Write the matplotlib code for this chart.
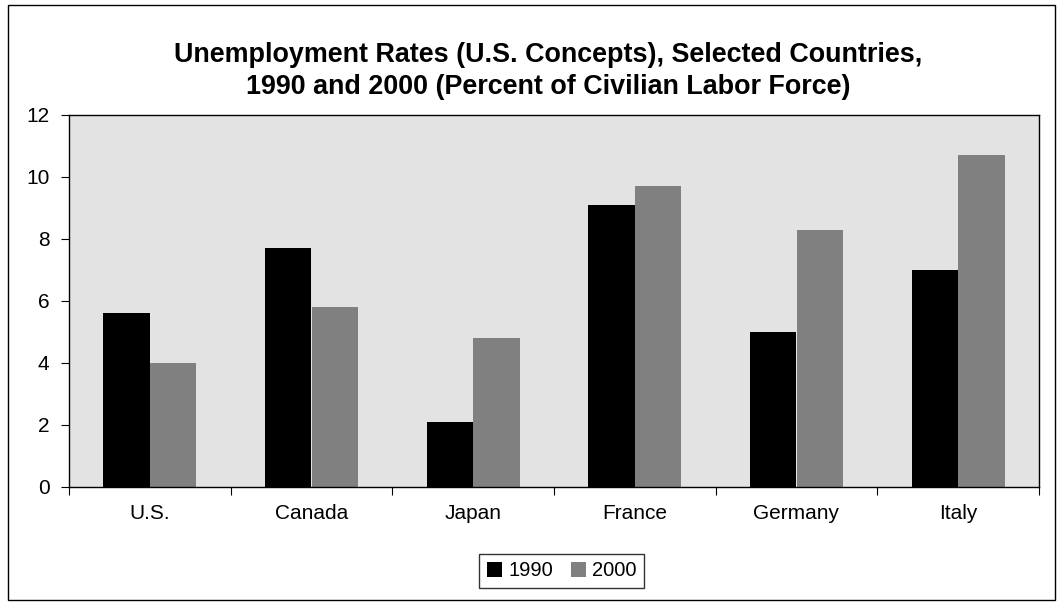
import matplotlib
matplotlib.use("Agg")
import matplotlib.pyplot as plt
import numpy as np
from matplotlib.patches import Rectangle

plt.rcParams['font.family'] = ['Liberation Sans', 'DejaVu Sans']

countries = ["U.S.", "Canada", "Japan", "France", "Germany", "Italy"]
series_names = ["1990", "2000"]
rates_1990 = [5.6, 7.7, 2.1, 9.1, 5.0, 7.0]
rates_2000 = [4.0, 5.8, 4.8, 9.7, 8.3, 10.7]
title = "Unemployment Rates (U.S. Concepts), Selected Countries,\n1990 and 2000 (Percent of Civilian Labor Force)"

fig = plt.figure(figsize=(10.62, 6.08), dpi=100)
fig.patch.set_facecolor("white")
fig.add_artist(Rectangle((8/1062, 8/608), 1047/1062, 595/608, transform=fig.transFigure,
                         fill=False, edgecolor="black", linewidth=1.0))

ax = fig.add_axes([69/1062, 121/608, 970/1062, 372/608])
ax.set_facecolor("#e3e3e3")
x = np.arange(len(countries))
w = 0.288
ax.bar(x - w/2, rates_1990, w, color="black", label=series_names[0])
ax.bar(x + w/2, rates_2000, w, color="#808080", label=series_names[1])
ax.set_xlim(-0.5, len(countries) - 0.5)
ax.set_ylim(0, 12)
ax.set_yticks(range(0, 13, 2))
ax.set_xticks(np.arange(-0.5, len(countries), 1.0))
ax.set_xticklabels([])
ax.set_xticks(x, minor=True)
ax.set_xticklabels(countries, minor=True)
ax.tick_params(axis="x", which="minor", length=0, pad=12, labelsize=15)
ax.tick_params(axis="x", which="major", direction="out", length=6)
ax.tick_params(axis="y", direction="out", length=6, labelsize=15, pad=8)
for s in ax.spines.values():
    s.set_linewidth(1.0)
    s.set_color("black")
ax.set_title(title, fontsize=19.4, fontweight="bold", pad=15, linespacing=1.3, x=0.494)
leg = ax.legend(loc="upper center", bbox_to_anchor=(0.508, -0.152), ncol=2, frameon=True,
                fancybox=False, edgecolor="black", fontsize=14.5, handlelength=0.75,
                handleheight=0.75, handletextpad=0.3, columnspacing=0.9, borderpad=0.38)
leg.get_frame().set_linewidth(1.0)
fig.savefig("out.png", dpi=100)
